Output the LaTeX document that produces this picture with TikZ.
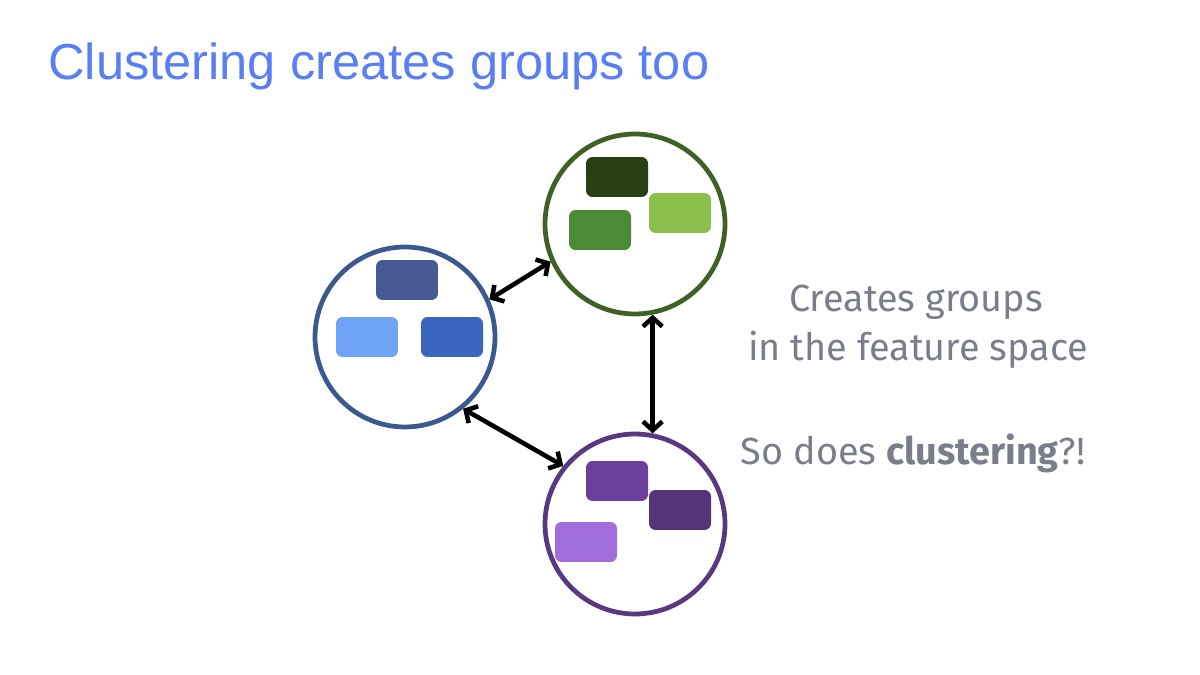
\documentclass[tikz,border=0pt]{standalone}
\usepackage{fontspec}
\setmainfont{Liberation Sans}
\newfontfamily\fira{Fira Sans}
\usetikzlibrary{arrows.meta}
\definecolor{titleblue}{HTML}{5A7FF5}
\definecolor{graytext}{HTML}{7A7E8A}
\definecolor{bstroke}{HTML}{3A5A8F}
\definecolor{gstroke}{HTML}{3E6125}
\definecolor{pstroke}{HTML}{583880}
\definecolor{bA}{HTML}{475993}
\definecolor{bB}{HTML}{6FA3F5}
\definecolor{bC}{HTML}{3A66BF}
\definecolor{gA}{HTML}{264013}
\definecolor{gB}{HTML}{8BBF4C}
\definecolor{gC}{HTML}{4D8A38}
\definecolor{pA}{HTML}{6B3F9C}
\definecolor{pB}{HTML}{55357A}
\definecolor{pC}{HTML}{A06DDB}
\tikzset{
  group/.style={circle, draw=#1, line width=0.095cm, minimum size=3.6cm, inner sep=0pt, fill=white},
  item/.style={rounded corners=0.13cm, fill=#1, minimum width=1.24cm, minimum height=0.8cm, inner sep=0pt},
  link/.style={{Straight Barb[length=5pt,width=11pt,line width=2.6pt]}-{Straight Barb[length=5pt,width=11pt,line width=2.6pt]}, line width=2.6pt, black},
  side/.style={font=\fira\fontsize{21.5pt}{26pt}\selectfont, text=graytext, align=center}
}
\begin{document}
\begin{tikzpicture}[x=0.02cm,y=-0.02cm]
\useasboundingbox[fill=white] (0,0) rectangle (1200,675);
\node[anchor=base west, inner sep=0pt, text=titleblue, font=\fontsize{28.8pt}{33pt}\selectfont] (title) at (48,80) {Clustering creates groups too};

\node[group=bstroke] (b) at (405,337) {};
\node[group=gstroke] (g) at (635,224) {};
\node[group=pstroke] (p) at (635,524) {};

\node[item=bA] (b1) at (407,280) {};
\node[item=bB] (b2) at (367,337) {};
\node[item=bC] (b3) at (452,337) {};

\node[item=gA] (g1) at (617,177) {};
\node[item=gB] (g2) at (680,213) {};
\node[item=gC] (g3) at (600,230) {};

\node[item=pA] (p1) at (617,481) {};
\node[item=pB] (p2) at (680,510) {};
\node[item=pC] (p3) at (586,542) {};

\draw[link] (b.24) -- (g.204);
\draw[link] (b.-51) -- (p.141);
\draw[link] (g.-79) -- (p.79);

\node[side, anchor=base] (t1) at (916,312) {Creates groups};
\node[side, anchor=base] (t2) at (918,361) {in the feature space};
\node[side, anchor=base] (t3) at (913,464) {So does \textbf{clustering}?!};
\end{tikzpicture}
\end{document}
